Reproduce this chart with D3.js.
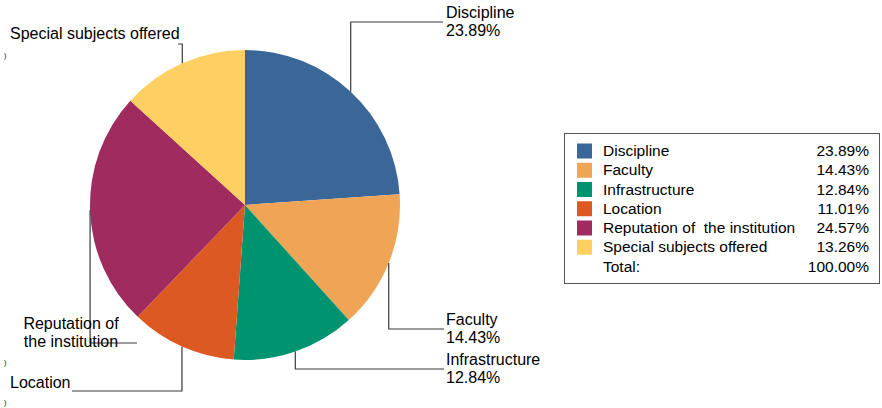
<!DOCTYPE html>
<html>
<head>
<meta charset="utf-8">
<script src="https://cdn.jsdelivr.net/npm/d3@7"></script>
<style>
html,body{margin:0;padding:0;background:#fff;}
svg{display:block;font-family:"Liberation Sans",Arial,sans-serif;}
</style>
</head>
<body>
<svg id="chart" width="882" height="408"></svg>
<script>
// ---- data ----
const categories = ["Discipline","Faculty","Infrastructure","Location","Reputation of  the institution","Special subjects offered"];
const values = [23.89, 14.43, 12.84, 11.01, 24.57, 13.26];
const colors = ["#3b6698","#f0a556","#00936f","#dc5a21","#a02b5f","#fecf62"];
const pieLabelLines = [["Discipline"],["Faculty"],["Infrastructure"],["Location"],["Reputation of","the institution"],["Special subjects offered"]];
const totalLabel = "Total:";
const totalValue = 100.00;

// ---- layout ----
const W = 882, H = 408;
const cx = 245, cy = 205, R = 155;
const fmt = v => v.toFixed(2) + "%";
// label placement (elbow y, horizontal end x, text x, text anchor, first baseline, show pct)
const labelLayout = [
  {ey: 22,  ex: 443, tx: 446, anchor: "start",  by: 18,  pct: true},
  {ey: 329, ex: 444, tx: 446, anchor: "start",  by: 325, pct: true},
  {ey: 369, ex: 444, tx: 446, anchor: "start",  by: 365, pct: true},
  {ey: 391, ex: 72,  tx: 10,  anchor: "start",  by: 388, pct: false},
  {ey: 343, ex: 137, tx: 71,  anchor: "middle", by: 329, pct: false},
  {ey: 44,  ex: 178, tx: 10,  anchor: "start",  by: 39,  pct: false}
];

const svg = d3.select("#chart");
const pie = d3.pie().sort(null).value(d => d);
const arcs = pie(values);
const arc = d3.arc().innerRadius(0).outerRadius(R);

const g = svg.append("g").attr("transform", `translate(${cx},${cy})`);
g.selectAll("path.slice").data(arcs).enter().append("path")
  .attr("class","slice")
  .attr("d", arc)
  .attr("fill", (d,i) => colors[i]);

// leader lines
const lineColor = "#3a3a3a";
arcs.forEach((d,i) => {
  const a = (d.startAngle + d.endAngle) / 2;
  const x0 = cx + R * Math.sin(a);
  const y0 = cy - R * Math.cos(a);
  const L = labelLayout[i];
  svg.append("path")
    .attr("d", `M${x0},${y0} L${x0},${L.ey} L${L.ex},${L.ey}`)
    .attr("fill","none")
    .attr("stroke", lineColor)
    .attr("stroke-width", 1.2);
  const lines = pieLabelLines[i].slice();
  if (L.pct) lines.push(fmt(values[i]));
  const t = svg.append("text")
    .attr("x", L.tx).attr("y", L.by)
    .attr("text-anchor", L.anchor)
    .attr("font-size", 16)
    .attr("fill", "#000");
  lines.forEach((s,k) => {
    t.append("tspan").attr("x", L.tx).attr("y", L.by + k*18).text(s);
  });
});

// small clipped fragments at left edge
[55, 362, 402].forEach(y => {
  svg.append("text").attr("x", 4).attr("y", y + 3).attr("font-size", 7).attr("fill","#000").text(")");
});

// legend
const lg = svg.append("g");
const lx = 564, ly = 133, lw = 315, lh = 150;
lg.append("rect").attr("x", lx+0.5).attr("y", ly+0.5).attr("width", lw).attr("height", lh)
  .attr("fill","#fff").attr("stroke","#555").attr("stroke-width",1);
const rowY = d3.scaleLinear().domain([0, 6]).range([156, 271.5]);
categories.forEach((c,i) => {
  const by = rowY(i);
  lg.append("rect").attr("x", 577).attr("y", by - 12.5).attr("width", 15).attr("height", 15).attr("fill", colors[i]);
  lg.append("text").attr("x", 603).attr("y", by).attr("font-size", 15.5).attr("xml:space","preserve").style("white-space","pre").text(c);
  lg.append("text").attr("x", 869).attr("y", by).attr("font-size", 15.5).attr("text-anchor","end").text(fmt(values[i]));
});
lg.append("text").attr("x", 603).attr("y", rowY(6)).attr("font-size", 15.5).text(totalLabel);
lg.append("text").attr("x", 869).attr("y", rowY(6)).attr("font-size", 15.5).attr("text-anchor","end").text(fmt(totalValue));
</script>
</body>
</html>
